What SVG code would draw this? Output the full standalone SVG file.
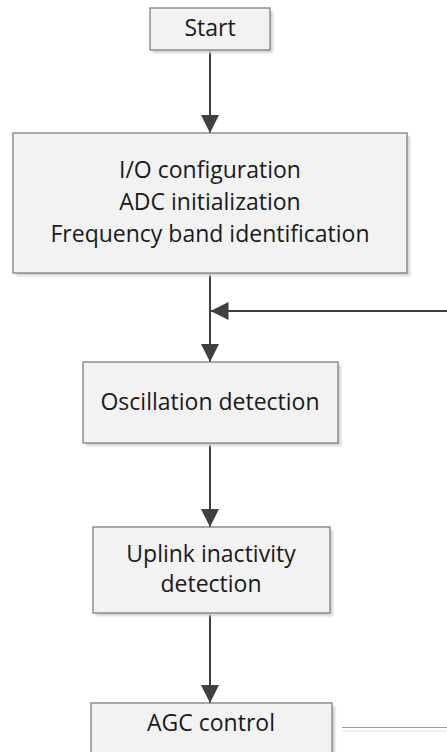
<svg xmlns="http://www.w3.org/2000/svg" width="447" height="752" viewBox="0 0 447 752">
  <defs>
    <marker id="arrow" markerUnits="userSpaceOnUse" markerWidth="18" markerHeight="18" refX="18" refY="9" orient="auto">
      <path d="M0,0 L18,9 L0,18 Z" fill="#404040"/>
    </marker>
    <filter id="soft" x="-5%" y="-5%" width="110%" height="110%">
      <feGaussianBlur stdDeviation="1"/>
    </filter>
  </defs>
  <style>
    .shadow { fill: #d4d4d4; filter: url(#soft); }
    .box { fill: #f2f2f2; stroke: #7f7f7f; stroke-width: 1.3; }
    .label { font-family: "Open Sans", "Noto Sans", sans-serif; font-size: 23px; fill: #1a1a1a; text-anchor: middle; }
    .conn { stroke: #404040; stroke-width: 2; fill: none; }
  </style>
  <rect width="447" height="752" fill="#ffffff"/>

  <g id="connectors">
    <line class="conn" x1="210" y1="50" x2="210" y2="133" marker-end="url(#arrow)"/>
    <line class="conn" x1="210" y1="273" x2="210" y2="362" marker-end="url(#arrow)"/>
    <line class="conn" x1="447" y1="311" x2="210.5" y2="311" marker-end="url(#arrow)"/>
    <line class="conn" x1="210" y1="443" x2="210" y2="527" marker-end="url(#arrow)"/>
    <line class="conn" x1="210" y1="613" x2="210" y2="703" marker-end="url(#arrow)"/>
    <line x1="342" y1="731" x2="447" y2="731" stroke="#f0f0f0" stroke-width="2"/>
    <line x1="342" y1="727.5" x2="447" y2="727.5" stroke="#9a9a9a" stroke-width="1.2"/>
  </g>

  <g id="start">
    <rect class="shadow" x="153" y="11" width="120" height="42"/>
    <rect class="box" x="150" y="8" width="120" height="42"/>
    <text class="label" x="210" y="36">Start</text>
  </g>

  <g id="init">
    <rect class="shadow" x="16" y="136" width="394" height="140"/>
    <rect class="box" x="13" y="133" width="394" height="140"/>
    <text class="label" x="210" y="178">I/O configuration</text>
    <text class="label" x="210" y="210">ADC initialization</text>
    <text class="label" x="210" y="242">Frequency band identification</text>
  </g>

  <g id="oscillation">
    <rect class="shadow" x="86" y="365" width="255" height="81"/>
    <rect class="box" x="83" y="362" width="255" height="81"/>
    <text class="label" x="210" y="410">Oscillation detection</text>
  </g>

  <g id="uplink">
    <rect class="shadow" x="96" y="530" width="237" height="86"/>
    <rect class="box" x="93" y="527" width="237" height="86"/>
    <text class="label" x="211" y="562">Uplink inactivity</text>
    <text class="label" x="211" y="592">detection</text>
  </g>

  <g id="agc">
    <rect class="shadow" x="94" y="706" width="241" height="60"/>
    <rect class="box" x="91" y="703" width="241" height="60"/>
    <text class="label" x="211" y="731">AGC control</text>
  </g>
</svg>
